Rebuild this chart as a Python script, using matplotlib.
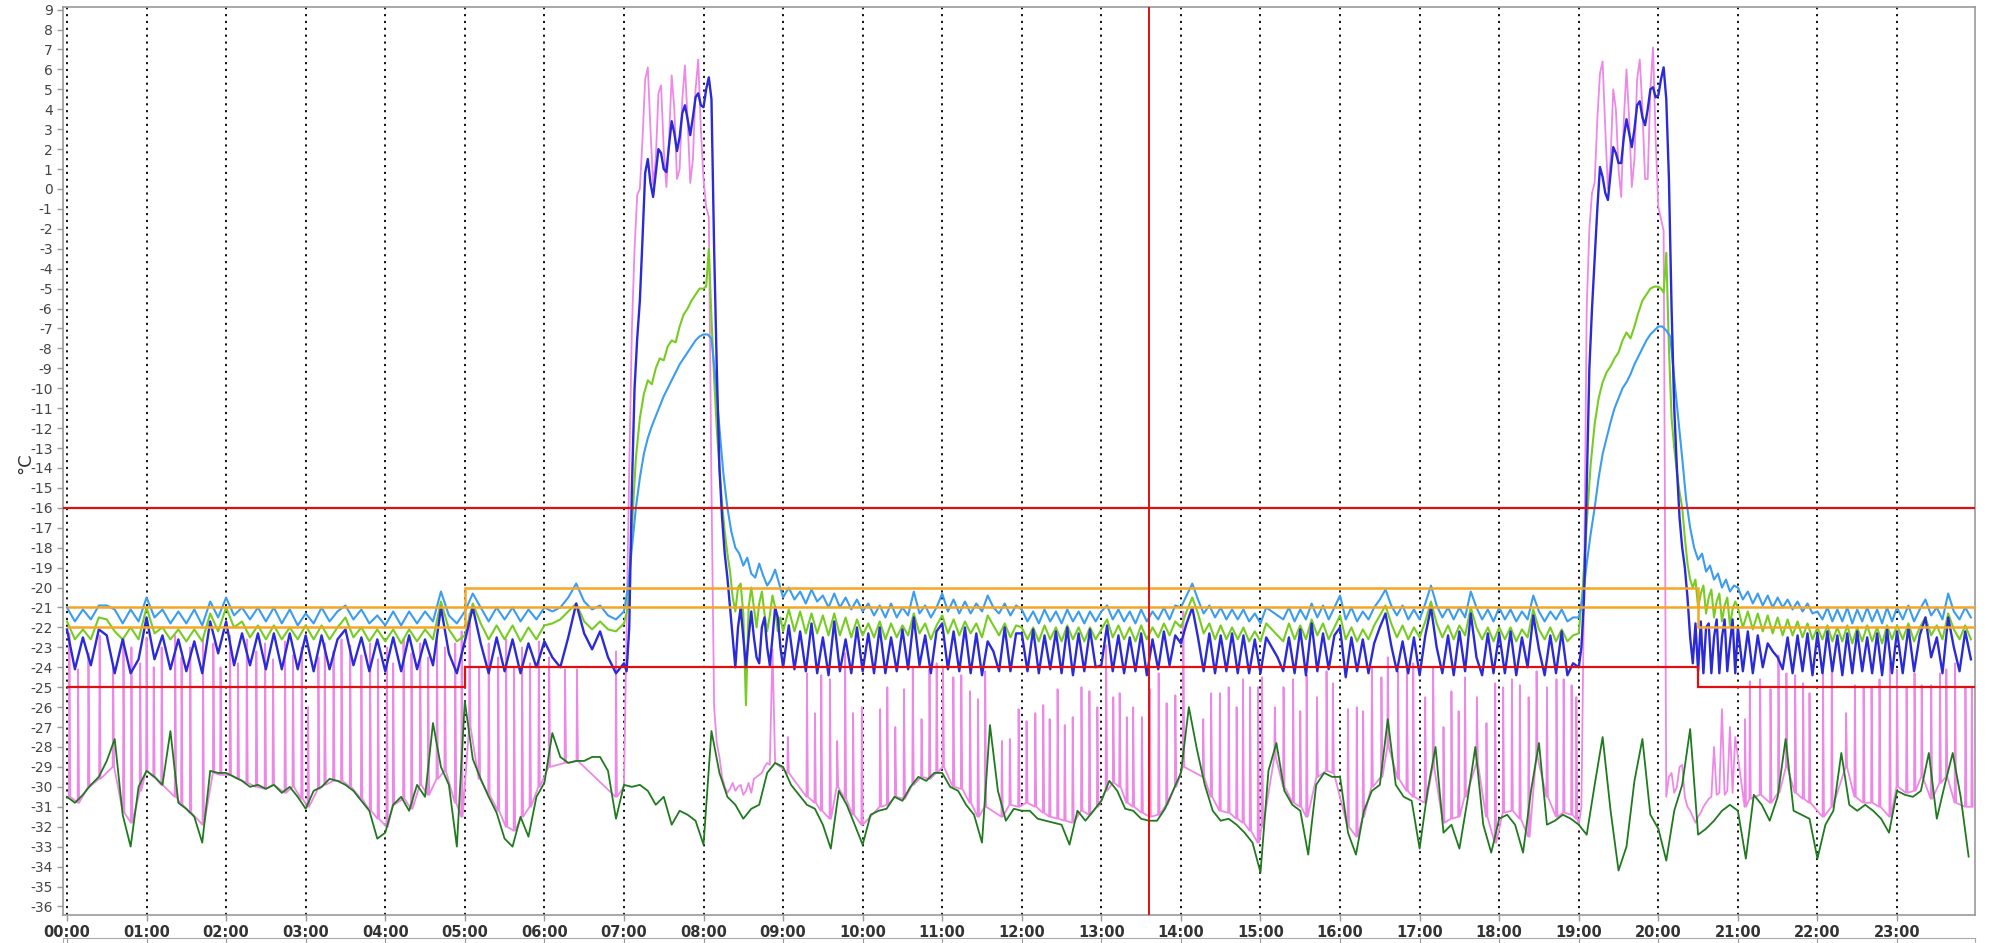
import numpy as np
import matplotlib
matplotlib.use("Agg")
import matplotlib.pyplot as plt

# ---------------- data ----------------
hours = list(range(24))
hour_labels = [f"{h:02d}:00" for h in hours]
y_ticks = list(range(-36, 10))

# light blue series: per-hour lists of values, evenly spread inside each hour
light_blue = [
    [-21.0,-21.7,-21.1,-21.6,-20.9,-20.9,-21.1,-21.8,-21.1,-21.7],
    [-20.5,-21.5,-21.1,-21.8,-21.2,-21.8,-21.1,-21.9,-20.7,-21.5],
    [-20.5,-21.4,-21.0,-21.6,-21.0,-21.7,-21.0,-21.8,-21.1,-21.9],
    [-21.3,-21.8,-21.0,-21.7,-21.2,-20.9,-21.6,-21.1,-21.8,-21.4],
    [-21.9,-21.2,-21.9,-21.2,-21.8,-21.2,-21.7,-20.2,-21.4,-21.8],
    [-21.2,-20.3,-21.0,-21.7,-21.0,-21.6,-21.0,-21.7,-21.1,-21.6],
    [-21.0,-21.2,-21.0,-20.5,-19.8,-20.7,-21.1,-20.9,-21.4,-21.6],
    [-21.2,-20.0,-18.0,-16.0,-14.5,-13.3,-12.5,-11.9,-11.4,-10.9,-10.4,-10.0,-9.6,-9.2,-8.8,-8.5,-8.2,-7.9,-7.6,-7.4],
    [-7.3,-7.3,-7.5,-9.5,-12.0,-14.3,-16.0,-17.2,-18.0,-18.3,-18.9,-18.5,-19.3,-19.5,-18.8,-19.4,-19.9,-19.6,-19.1,-19.8],
    [-20.5,-20.0,-20.6,-20.2,-20.8,-20.1,-20.7,-20.4,-21.0,-20.3,-21.0,-20.5,-21.1,-20.6],
    [-21.2,-20.8,-21.4,-20.9,-21.5,-20.8,-21.5,-21.0,-21.4,-20.2,-21.3,-20.9,-21.5,-21.0],
    [-20.3,-21.2,-20.6,-21.3,-20.7,-21.3,-20.8,-21.2,-20.4,-21.0,-21.3,-20.8,-21.4,-20.9],
    [-21.1,-21.7,-21.2,-21.8,-21.1,-21.7,-21.2,-21.8,-21.1,-21.7,-21.2,-21.8,-21.2,-21.7],
    [-21.2,-20.9,-21.6,-21.1,-21.7,-21.2,-21.8,-21.1,-21.7,-21.2,-21.6,-21.0,-21.6,-20.9],
    [-21.0,-20.4,-19.8,-20.6,-21.3,-20.9,-21.5,-21.0,-21.6,-21.1,-21.6,-21.1,-21.7,-21.3],
    [-21.8,-21.0,-21.2,-21.4,-21.6,-21.0,-21.7,-21.1,-21.6,-20.8,-21.5,-20.9,-21.6,-21.0],
    [-20.4,-21.6,-21.0,-21.7,-21.2,-21.6,-21.0,-20.6,-20.1,-20.9,-21.4,-20.9,-21.6,-21.1],
    [-21.6,-20.8,-19.9,-20.9,-21.5,-21.0,-21.6,-21.0,-21.5,-20.2,-21.0,-21.6,-21.1,-21.7],
    [-21.0,-21.6,-21.1,-21.7,-21.2,-21.6,-20.4,-21.2,-21.7,-21.2,-21.6,-21.1,-21.7,-21.5],
    [-21.5,-20.5,-18.8,-17.3,-16.0,-14.5,-13.3,-12.5,-11.7,-11.0,-10.5,-10.0,-9.7,-9.3,-8.8,-8.4,-8.0,-7.6,-7.3,-7.1],
    [-6.9,-6.9,-7.1,-7.4,-9.5,-11.5,-13.5,-15.6,-17.0,-18.0,-18.6,-18.3,-19.2,-18.9,-19.6,-19.3,-20.0,-19.6,-20.2,-19.9],
    [-20.0,-20.6,-20.2,-20.8,-20.3,-20.9,-20.4,-21.0,-20.5,-21.0,-20.6,-21.1,-20.7,-21.2,-20.8,-21.3],
    [-21.2,-21.6,-21.0,-21.7,-21.1,-21.7,-21.0,-21.8,-21.1,-21.7,-21.0,-21.7,-21.1,-21.8,-21.0,-21.7],
    [-21.0,-21.6,-20.9,-21.7,-21.1,-20.6,-21.4,-21.0,-21.6,-20.3,-21.2,-21.6,-21.0,-21.5],
]

light_green = [
    [-21.7,-22.6,-22.1,-22.6,-21.5,-21.6,-22.2,-22.6,-22.0,-22.6],
    [-21.0,-22.3,-22.0,-22.6,-22.1,-22.7,-22.1,-22.7,-21.3,-22.2],
    [-21.0,-22.0,-21.7,-22.5,-21.9,-22.6,-21.9,-22.6,-22.0,-22.6],
    [-21.9,-22.6,-21.9,-22.6,-22.0,-21.5,-22.5,-22.0,-22.7,-22.1],
    [-22.7,-22.1,-22.8,-22.1,-22.7,-22.1,-22.6,-20.7,-22.1,-22.7],
    [-22.4,-20.8,-21.8,-22.6,-21.9,-22.6,-21.9,-22.7,-22.0,-22.6],
    [-21.9,-21.8,-21.6,-21.2,-20.8,-21.7,-22.1,-21.7,-22.1,-22.2],
    [-21.8,-21.0,-17.0,-13.5,-11.5,-10.3,-9.6,-9.8,-9.0,-8.5,-8.6,-7.9,-7.6,-7.7,-6.9,-6.3,-6.0,-5.6,-5.3,-5.0],
    [-5.0,-4.9,-3.0,-6.5,-9.5,-12.0,-14.0,-15.8,-17.2,-18.3,-19.2,-20.5,-21.2,-20.0,-19.8,-21.3,-25.9,-21.0,-20.0,-21.0,
     -22.0,-20.8,-20.2,-21.3,-22.2,-21.4,-20.4,-21.0,-22.2,-21.5],
    [-22.2,-21.1,-22.2,-21.2,-22.3,-21.3,-22.3,-21.4,-22.4,-21.3,-22.4,-21.5,-22.5,-21.6],
    [-22.4,-21.8,-22.5,-21.7,-22.6,-21.8,-22.5,-21.9,-22.4,-21.3,-22.3,-21.8,-22.6,-21.9],
    [-21.4,-22.3,-21.6,-22.4,-21.7,-22.3,-21.8,-22.5,-21.4,-21.9,-22.4,-21.8,-22.5,-21.9],
    [-22.0,-22.6,-22.0,-22.7,-21.9,-22.6,-22.0,-22.7,-21.9,-22.6,-22.0,-22.7,-22.0,-22.6],
    [-22.1,-21.6,-22.5,-21.9,-22.6,-22.0,-22.7,-21.9,-22.6,-22.0,-22.5,-21.8,-22.4,-21.7],
    [-22.0,-21.2,-20.5,-21.3,-22.3,-21.8,-22.6,-21.9,-22.6,-22.0,-22.6,-22.0,-22.7,-22.2],
    [-22.7,-21.8,-22.1,-22.4,-22.7,-21.8,-22.6,-21.9,-22.6,-21.6,-22.4,-21.8,-22.6,-22.0],
    [-21.4,-22.6,-22.0,-22.7,-22.1,-22.6,-21.9,-21.4,-20.9,-21.8,-22.5,-21.9,-22.6,-22.0],
    [-22.5,-21.7,-20.7,-21.8,-22.5,-21.9,-22.6,-21.9,-22.4,-21.0,-22.0,-22.6,-22.0,-22.7],
    [-22.0,-22.6,-22.0,-22.7,-22.1,-22.5,-21.1,-22.1,-22.6,-22.0,-22.7,-22.1,-22.7,-22.4],
    [-22.3,-20.0,-16.8,-13.8,-11.8,-10.5,-9.7,-9.2,-8.9,-8.5,-8.2,-7.6,-7.2,-7.5,-6.9,-6.2,-5.6,-5.3,-5.0,-4.9],
    [-4.9,-5.0,-5.2,-3.2,-8.0,-11.5,-13.0,-14.2,-15.2,-16.0,-17.5,-18.8,-19.6,-20.0,-19.6,-21.0,-20.3,-19.9,-21.3,-20.5,
     -20.1,-21.5,-20.7,-20.3,-21.7,-20.9,-20.5,-21.9,-21.1,-20.7],
    [-21.0,-22.0,-21.2,-22.1,-21.3,-22.2,-21.4,-22.3,-21.5,-22.4,-21.6,-22.4,-21.7,-22.5,-21.8,-22.6],
    [-22.0,-22.6,-21.9,-22.7,-22.0,-22.7,-21.9,-22.8,-22.0,-22.7,-21.9,-22.7,-22.0,-22.8,-21.9,-22.6],
    [-21.9,-22.6,-21.8,-22.7,-22.0,-21.5,-22.4,-21.9,-22.6,-21.3,-22.1,-22.6,-21.9,-22.6],
]

dark_blue = [
    [-22.1,-24.1,-22.5,-23.9,-22.1,-22.4,-24.3,-22.6,-24.3,-23.6],
    [-21.5,-23.6,-22.4,-24.1,-22.6,-24.2,-22.7,-24.3,-21.7,-23.3],
    [-21.7,-23.9,-22.3,-23.9,-22.3,-24.1,-22.3,-24.1,-22.3,-24.1],
    [-22.4,-24.2,-22.4,-24.1,-22.6,-22.1,-23.9,-22.5,-24.2,-22.6],
    [-24.2,-22.5,-24.2,-22.4,-24.1,-22.6,-23.9,-21.0,-23.3,-24.3],
    [-22.7,-21.0,-22.8,-24.3,-22.5,-24.2,-22.6,-24.3,-22.8,-24.0],
    [-22.7,-23.5,-24.0,-22.5,-20.8,-22.3,-23.1,-22.2,-23.5,-24.3],
    [-23.8,-24.2,-22.0,-15.0,-10.0,-7.5,-5.6,-2.5,0.8,1.5,0.3,-0.4,0.8,2.0,1.8,1.0,0.85,2.2,3.4,2.8,
     1.9,2.6,3.8,4.2,3.5,2.7,3.6,4.6,4.8,4.2],
    [4.1,5.0,5.6,4.5,-3.0,-9.0,-14.0,-16.5,-18.3,-19.5,-21.0,-22.5,-24.0,-22.0,-21.0,-22.5,-24.0,-22.5,-21.2,-22.5,
     -23.5,-23.8,-22.0,-21.5,-23.0,-23.9,-22.5,-21.0,-21.5,-23.0],
    [-24.0,-21.9,-24.1,-22.2,-24.2,-21.8,-24.3,-22.5,-24.4,-21.7,-24.2,-22.6,-24.3,-22.0],
    [-24.2,-22.3,-24.3,-22.0,-24.3,-22.5,-24.2,-22.1,-24.1,-21.5,-23.9,-22.4,-24.3,-22.2],
    [-21.8,-24.1,-22.2,-24.2,-22.0,-24.3,-22.3,-24.4,-22.7,-23.2,-24.2,-22.0,-24.2,-22.3],
    [-22.3,-24.2,-22.1,-24.3,-22.4,-24.1,-22.2,-24.3,-22.0,-24.4,-22.3,-24.2,-22.1,-24.0],
    [-23.9,-21.9,-24.2,-22.4,-24.3,-22.5,-24.2,-22.3,-24.4,-22.6,-24.1,-22.2,-23.9,-22.4],
    [-22.8,-21.8,-21.0,-22.5,-24.2,-22.3,-24.3,-22.4,-24.2,-22.3,-24.3,-22.4,-24.3,-22.6],
    [-24.3,-22.5,-23.0,-23.5,-24.2,-22.5,-24.3,-22.1,-24.4,-21.8,-24.2,-22.3,-24.1,-22.4],
    [-22.0,-24.5,-22.5,-24.2,-22.6,-24.3,-22.8,-22.0,-21.3,-22.9,-24.2,-22.7,-24.3,-22.5],
    [-24.4,-22.4,-21.0,-23.0,-24.3,-22.4,-24.4,-22.2,-24.2,-21.3,-23.5,-24.4,-22.3,-24.3],
    [-22.3,-24.3,-22.2,-24.4,-22.5,-24.0,-21.4,-23.1,-24.4,-22.4,-24.3,-22.2,-24.4,-23.8],
    [-24.0,-23.0,-20.5,-15.0,-9.0,-6.0,-3.5,-1.0,1.1,0.6,-0.2,-0.55,0.8,2.1,1.8,1.3,1.3,2.6,3.5,2.8,
     2.1,3.0,4.2,4.4,3.6,3.2,4.0,5.0,5.1,4.6],
    [4.7,5.5,6.1,4.5,0.5,-6.0,-11.0,-14.0,-16.5,-18.0,-19.0,-20.5,-22.5,-23.8,-21.8,-24.2,-21.7,-24.3,-22.0,-21.8,
     -24.3,-22.5,-21.6,-24.3,-22.5,-21.6,-24.2,-22.8,-21.6,-24.3],
    [-22.0,-24.2,-22.2,-24.3,-22.4,-24.0,-22.8,-23.2,-23.5,-24.1,-22.5,-24.3,-22.4,-24.2,-22.3,-24.4],
    [-22.3,-24.3,-22.2,-24.2,-22.4,-24.4,-22.3,-24.3,-22.2,-24.2,-22.5,-24.3,-22.3,-24.4,-22.1,-24.3],
    [-22.2,-24.3,-22.0,-24.2,-22.4,-21.5,-23.5,-22.5,-24.3,-21.5,-23.0,-24.2,-22.2,-23.6],
]

dark_green = [
    [-30.5,-30.8,-30.4,-29.9,-29.5,-28.7,-27.6,-31.4,-33.0,-30.0],
    [-29.2,-29.5,-29.9,-27.2,-30.8,-31.1,-31.5,-32.8,-29.2,-29.3],
    [-29.3,-29.5,-29.7,-30.0,-29.9,-30.1,-29.9,-30.3,-30.0,-30.5],
    [-31.1,-30.2,-30.0,-29.6,-29.7,-29.9,-30.2,-30.7,-31.2,-32.6],
    [-32.3,-30.9,-30.5,-31.2,-29.9,-30.5,-26.8,-29.0,-29.9,-33.0],
    [-25.7,-28.6,-29.6,-30.5,-31.3,-32.6,-33.0,-31.5,-32.5,-30.5],
    [-29.8,-27.3,-28.5,-28.8,-28.7,-28.7,-28.5,-28.5,-29.2,-31.6],
    [-29.9,-30.0,-29.9,-30.2,-30.9,-30.5,-31.9,-31.2,-31.4,-31.7],
    [-32.9,-27.2,-29.3,-30.5,-30.9,-31.6,-31.1,-30.9,-29.3,-28.8],
    [-29.0,-29.9,-30.4,-30.9,-31.1,-31.9,-33.1,-30.2,-30.9,-31.9],
    [-32.9,-31.4,-31.2,-31.1,-30.5,-30.7,-30.0,-29.5,-29.7,-29.3],
    [-29.3,-30.0,-30.2,-30.9,-31.4,-32.8,-26.9,-30.2,-31.7,-31.1],
    [-31.2,-31.2,-31.6,-31.7,-31.8,-31.9,-32.9,-31.2,-31.7,-31.2],
    [-30.7,-29.7,-30.2,-31.1,-31.2,-31.6,-31.7,-31.7,-31.1,-30.2],
    [-29.3,-26.0,-28.1,-29.9,-31.2,-31.7,-31.6,-31.9,-32.3,-32.8],
    [-34.3,-29.2,-27.8,-30.2,-30.9,-31.2,-33.4,-29.9,-29.3,-29.5],
    [-29.5,-32.3,-33.4,-31.2,-30.2,-29.9,-26.6,-29.9,-30.5,-30.7],
    [-33.1,-30.2,-28.0,-32.3,-31.9,-33.1,-30.7,-28.0,-31.9,-33.3],
    [-31.6,-31.4,-31.9,-33.3,-30.2,-27.8,-31.9,-31.7,-31.4,-31.6],
    [-31.9,-32.4,-29.9,-27.5,-31.2,-34.2,-33.0,-29.7,-27.6,-31.4],
    [-32.1,-33.7,-31.2,-29.9,-27.1,-32.4,-32.1,-31.7,-31.2,-30.9],
    [-31.2,-33.6,-30.4,-30.9,-31.7,-30.5,-27.6,-31.2,-31.4,-31.6],
    [-33.6,-31.9,-31.2,-28.3,-30.9,-31.2,-30.9,-31.2,-31.6,-32.3],
    [-30.2,-30.4,-30.5,-30.2,-28.3,-31.6,-29.9,-28.3,-30.5,-33.5],
]

# violet series: short spikes (time, top, base) + defrost hours given as plain values
violet_spike_t = [
    0.03,0.14,0.27,0.41,0.58,0.71,0.81,0.92,
    1.00,1.09,1.19,1.36,1.44,1.55,1.71,1.84,1.93,
    2.05,2.15,2.26,2.38,2.49,2.59,2.74,2.84,2.95,
    3.03,3.16,3.24,3.35,3.45,3.56,3.70,3.81,3.91,
    4.02,4.10,4.23,4.33,4.44,4.54,4.65,4.75,4.88,4.96,
    5.06,5.18,5.30,5.42,5.52,5.62,5.72,5.82,5.93,
    6.06,6.26,6.41,6.90,
    9.06,9.30,9.40,9.48,9.59,9.68,9.78,9.88,9.99,
    10.22,10.31,10.41,10.52,10.63,10.74,10.84,10.93,
    11.01,11.14,11.24,11.35,11.45,11.54,11.75,11.85,11.96,
    12.06,12.17,12.27,12.35,12.45,12.54,12.64,12.75,12.85,12.95,
    13.06,13.15,13.23,13.32,13.40,13.51,13.61,13.72,13.82,13.93,
    14.03,14.28,14.38,14.49,14.60,14.70,14.78,14.87,14.97,
    15.02,15.18,15.29,15.41,15.50,15.58,15.71,15.83,15.91,
    16.10,16.21,16.29,16.40,16.52,16.60,16.73,16.84,16.92,
    17.07,17.17,17.30,17.40,17.49,17.57,17.72,17.84,17.95,
    18.05,18.16,18.26,18.37,18.47,18.60,18.72,18.81,18.91,18.97,
    21.09,21.15,21.28,21.41,21.51,21.61,21.72,21.82,21.90,
    22.07,22.18,22.36,22.47,22.58,22.68,22.78,22.91,
    23.00,23.12,23.22,23.31,23.43,23.54,23.62,23.73,23.86,23.94,
]
violet_spike_top = [
    -22.3,-24.1,-23.3,-22.4,-24.0,-22.6,-23.0,-23.8,
    -22.5,-24.0,-23.0,-22.4,-23.5,-23.0,-22.6,-22.8,-24.0,
    -22.4,-23.8,-22.6,-23.2,-22.8,-23.6,-22.7,-23.4,-23.0,
    -26.0,-23.5,-22.8,-23.2,-22.6,-22.9,-23.4,-22.8,-23.6,
    -23.0,-23.8,-22.6,-23.3,-22.8,-23.5,-22.4,-23.0,-22.8,-22.2,
    -21.3,-24.0,-22.8,-23.5,-22.6,-24.0,-23.0,-23.8,-22.7,
    -23.5,-24.1,-24.1,-23.2,
    -27.5,-24.3,-26.3,-24.4,-24.6,-27.7,-23.3,-26.3,-26.0,
    -26.1,-25.0,-27.0,-25.1,-24.0,-26.6,-24.1,-23.8,
    -24.0,-24.5,-24.4,-25.2,-25.6,-24.2,-27.7,-27.6,-26.1,
    -26.7,-26.3,-25.9,-26.6,-25.1,-26.9,-26.5,-25.0,-25.2,-26.0,
    -22.9,-25.5,-25.3,-26.5,-26.0,-26.5,-25.1,-24.3,-25.8,-25.4,
    -21.2,-26.6,-25.3,-25.3,-25.0,-26.0,-24.6,-25.0,-25.0,
    -24.5,-26.0,-25.0,-24.6,-26.2,-24.4,-25.5,-24.2,-24.8,
    -26.1,-26.0,-26.2,-24.0,-24.5,-23.5,-24.2,-24.0,-23.8,
    -25.5,-24.0,-27.0,-25.2,-26.2,-24.5,-25.5,-26.8,-24.8,
    -25.0,-24.6,-24.9,-25.5,-24.2,-25.0,-24.6,-24.6,-24.9,-25.5,
    -26.6,-24.7,-24.6,-25.1,-23.4,-24.3,-24.4,-24.8,-25.3,
    -24.2,-23.8,-26.3,-24.9,-25.0,-25.0,-24.6,-23.8,
    -24.1,-25.0,-24.3,-24.9,-24.9,-24.3,-24.1,-23.8,-25.0,-25.0,
]
violet_spike_base = [
    -30.5,-30.8,-30.0,-29.6,-29.0,-31.3,-31.8,-30.2,
    -29.2,-29.5,-29.9,-30.5,-30.9,-31.3,-31.9,-29.3,-29.4,
    -29.4,-29.6,-29.8,-30.0,-30.1,-29.9,-30.3,-30.0,-30.6,
    -31.0,-30.1,-29.9,-29.7,-29.7,-30.0,-30.6,-31.2,-31.6,
    -32.0,-30.9,-30.6,-31.1,-29.9,-30.4,-29.6,-29.2,-30.8,-31.5,
    -27.0,-29.6,-30.4,-31.2,-32.0,-32.2,-31.5,-31.0,-30.0,
    -29.0,-28.8,-28.7,-30.5,
    -29.3,-30.5,-30.8,-31.2,-31.6,-30.0,-30.6,-31.4,-31.9,
    -31.0,-30.9,-30.5,-30.6,-29.9,-29.5,-29.6,-29.3,
    -29.0,-30.0,-30.1,-30.8,-31.5,-31.0,-31.5,-30.9,-31.0,
    -30.8,-31.0,-31.3,-31.5,-31.6,-31.7,-31.8,-31.2,-31.4,-31.0,
    -30.2,-29.8,-30.0,-30.8,-31.0,-31.3,-31.5,-31.4,-30.9,-30.0,
    -29.0,-29.5,-30.5,-31.2,-31.3,-31.6,-31.8,-32.2,-32.8,
    -32.0,-28.5,-30.0,-30.8,-31.0,-31.5,-29.5,-29.2,-29.3,
    -32.0,-32.5,-31.5,-30.0,-29.5,-28.0,-29.6,-30.2,-30.5,
    -30.8,-29.0,-31.8,-31.6,-31.5,-30.5,-28.8,-31.5,-32.8,
    -31.3,-31.2,-31.6,-32.5,-28.5,-30.5,-31.5,-31.3,-31.4,-31.6,
    -31.0,-30.6,-30.4,-30.8,-30.3,-29.0,-30.3,-30.6,-30.8,
    -31.5,-31.0,-29.0,-30.5,-30.8,-30.8,-31.0,-31.5,
    -30.0,-30.3,-30.2,-29.5,-30.6,-29.8,-29.5,-30.8,-31.0,-31.0,
]
violet_plain = {
    7: [-30.0,-22.0,-14.0,-7.0,-3.0,-0.3,0.0,2.5,5.5,6.1,3.0,0.2,1.5,4.8,5.2,2.0,0.1,2.5,5.7,4.0,
        0.5,1.0,4.5,6.2,3.5,0.3,1.5,5.0,6.5,3.0],
    8: [0.5,-0.9,-1.4,-15.0,-26.0,-27.8,-28.5,-29.5,-30.0,-30.3,-30.1,-29.8,-30.2,-30.0,-29.9,-30.4,-30.2,-29.8,-30.3,-29.6,
        -29.5,-29.4,-29.3,-29.0,-28.8,-28.9,-23.1,-28.8,-28.9,-29.0],
    19: [-31.9,-31.0,-20.0,-6.0,-2.0,-0.2,0.3,3.5,5.8,6.4,3.0,0.0,1.5,5.0,4.0,1.0,-0.4,3.5,6.0,3.5,
         0.1,1.5,5.5,6.5,4.0,0.5,0.5,5.0,7.1,2.5],
    20: [-0.9,-1.5,-2.1,-30.5,-29.5,-29.3,-30.3,-30.0,-29.0,-28.9,-30.5,-31.0,-31.2,-31.5,-31.8,-31.5,-31.3,-31.0,-30.8,-30.6,
         -30.5,-28.0,-30.4,-30.3,-26.1,-30.4,-30.2,-27.0,-30.3,-27.5],
}

# limit lines
band_edges = [0, 5, 20.5, 24]
upper_band = [-21, -20, -21]
lower_band = [-22, -21, -22]
low_alarm = [-25, -24, -25]
high_alarm = -16
cursor_time = 13.6


def hourly(lists):
    t, v = [], []
    for h, vals in enumerate(lists):
        n = len(vals)
        t += [h + i / n for i in range(n)]
        v += list(vals)
    return np.array(t), np.array(v)


def violet_series():
    pts = []
    for t, top, base in zip(violet_spike_t, violet_spike_top, violet_spike_base):
        pts += [(t - 0.006, base), (t, top), (t + 0.012, base)]
    for h, vals in violet_plain.items():
        n = len(vals)
        pts += [(h + i / n, v) for i, v in enumerate(vals)]
    pts.sort()
    arr = np.array(pts)
    return arr[:, 0], arr[:, 1]


# ---------------- figure ----------------
W, H = 1990, 943
fig = plt.figure(figsize=(W / 100, H / 100), dpi=100)
ax = fig.add_axes([63 / W, 1 - 915 / H, (1975 - 63) / W, (915 - 7) / H])

for h in hours:
    ax.axvline(h, color="black", lw=1.3, ls=(0, (1.2, 2.6)), zorder=1)

tv, vv = violet_series()
ax.plot(tv, vv, color="#ee88e6", lw=1.3, zorder=2)
t, v = hourly(dark_green)
ax.plot(t, v, color="#1f7a1f", lw=1.3, zorder=3)
t, v = hourly(light_green)
ax.plot(t, v, color="#77cc22", lw=1.5, zorder=4)
t, v = hourly(light_blue)
ax.plot(t, v, color="#3b9cf0", lw=1.5, zorder=5)
t, v = hourly(dark_blue)
ax.plot(t, v, color="#2a2ad8", lw=1.7, zorder=6)

ax.stairs(upper_band, band_edges, baseline=None, color="#f5a623", lw=1.8, zorder=7)
ax.stairs(lower_band, band_edges, baseline=None, color="#f5a623", lw=1.8, zorder=7)
ax.stairs(low_alarm, band_edges, baseline=None, color="#e01010", lw=1.6, zorder=8)
ax.axhline(high_alarm, color="#e01010", lw=1.6, zorder=8)
ax.axvline(cursor_time, color="#e01010", lw=1.4, zorder=8)

ax.set_xlim(-0.05, 23.98)
ax.set_ylim(-36.43, 9.13)
ax.set_yticks(y_ticks)
ax.set_yticklabels([str(y) for y in y_ticks], fontsize=10, color="#444444")
ax.set_xticks(hours)
ax.set_xticklabels(hour_labels, fontsize=10.5, fontweight="bold", color="#333333")
ax.tick_params(axis="both", length=4, color="#999999", width=1)
ax.tick_params(axis="x", pad=3)
for s in ax.spines.values():
    s.set_color("#999999")
    s.set_linewidth(1.2)
fig.text(25 / W, 1 - 463 / H, "°C", rotation=90, ha="center", va="center",
         fontsize=13, color="#333333")

# top edge of the next panel, cut off at the bottom of the image
ax2 = fig.add_axes([63 / W, -0.01, (1975 - 63) / W, 14 / H])
ax2.set_xlim(-0.05, 23.98)
ax2.set_xticks(hours)
ax2.set_xticklabels([])
ax2.set_yticks([])
ax2.tick_params(axis="x", length=4, color="#999999", direction="in", top=True, bottom=False)
for s in ax2.spines.values():
    s.set_color("#aaaaaa")

fig.savefig("out.png", dpi=100)
